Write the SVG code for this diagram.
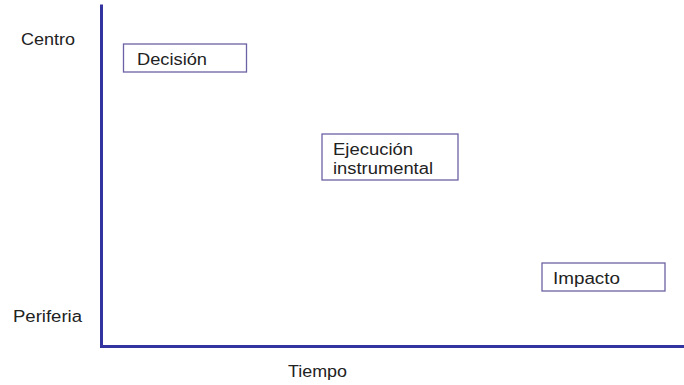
<svg xmlns="http://www.w3.org/2000/svg" width="684" height="385" viewBox="0 0 684 385">
<style>
text{font-family:"Liberation Sans",Arial,sans-serif;font-size:16px;fill:#222}
.box{fill:#fff;stroke:#6b62a3;stroke-width:1.3}
.axis{fill:none;stroke:#3434a0;stroke-width:3;stroke-linecap:square}
</style>
<rect width="684" height="385" fill="#fff"/>
<g id="axes">
<path class="axis" d="M101.5 6 V346.5 H684"/>
</g>
<g id="labels">
<text x="21" y="45" textLength="54" lengthAdjust="spacingAndGlyphs">Centro</text>
<text x="13" y="322" textLength="69" lengthAdjust="spacingAndGlyphs">Periferia</text>
<text x="288" y="377" textLength="59" lengthAdjust="spacingAndGlyphs">Tiempo</text>
</g>
<g id="decision">
<rect class="box" x="123.5" y="44" width="123" height="28"/>
<text x="137" y="65" textLength="70" lengthAdjust="spacingAndGlyphs">Decisión</text>
</g>
<g id="ejecucion">
<rect class="box" x="322" y="134" width="136" height="46"/>
<text x="333" y="155" textLength="80" lengthAdjust="spacingAndGlyphs">Ejecución</text>
<text x="333" y="174" textLength="100" lengthAdjust="spacingAndGlyphs">instrumental</text>
</g>
<g id="impacto">
<rect class="box" x="542" y="263" width="123" height="28"/>
<text x="553" y="284" textLength="67" lengthAdjust="spacingAndGlyphs">Impacto</text>
</g>
</svg>
